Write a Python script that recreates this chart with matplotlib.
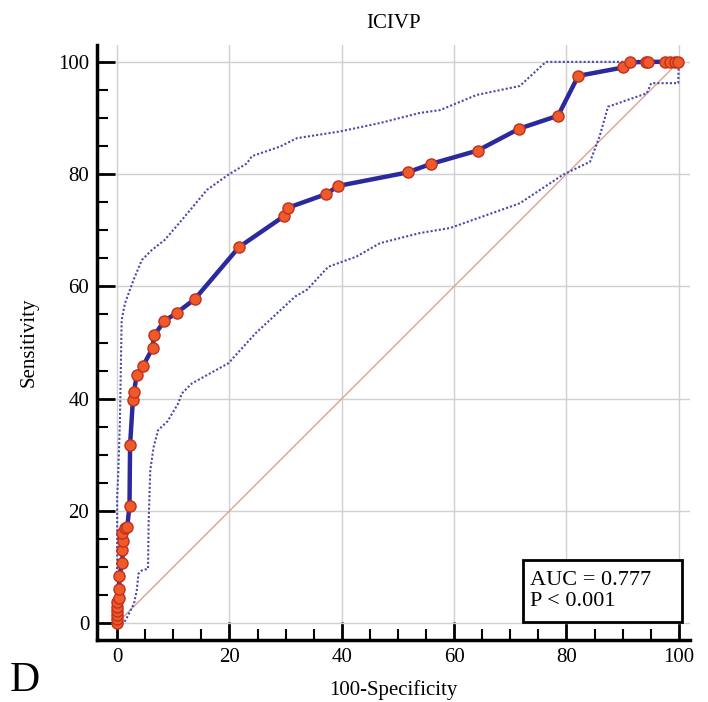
import matplotlib
matplotlib.use("Agg")
import matplotlib.pyplot as plt
from matplotlib.ticker import MultipleLocator
from matplotlib.patches import Rectangle

plt.rcParams['font.family'] = ['Liberation Serif', 'DejaVu Serif']

# ROC curve points (100-Specificity, Sensitivity)
roc_x = [0, 0, 0, 0, 0, 0, 0.36, 0.4, 0.36, 0.95, 0.95, 1.0, 0.95, 1.4, 1.8, 2.2, 2.3,
         2.8, 3.0, 3.5, 4.6, 6.3, 6.6, 8.4, 10.6, 13.8, 21.7, 29.7, 30.4, 37.1, 39.4,
         51.7, 55.8, 64.2, 71.6, 78.5, 82.1, 90.1, 91.4, 94.2, 94.6, 97.5, 98.5, 99.3, 99.9]
roc_y = [0, 0.7, 1.4, 2.2, 2.9, 3.8, 4.4, 6.0, 8.4, 10.8, 13.0, 14.6, 16.1, 16.9, 17.2, 20.9, 31.7,
         39.7, 41.2, 44.3, 45.8, 49.0, 51.3, 53.8, 55.3, 57.7, 67.0, 72.5, 74.0, 76.4, 77.9,
         80.3, 81.8, 84.2, 88.1, 90.4, 97.5, 99.0, 99.9, 100, 100, 100, 100, 100, 100]

# Upper confidence bound
upper_x = [0, 0, 0.2, 0.5, 0.8, 1.4, 2.9, 4.4, 6.2, 8.5, 11.5, 16.0, 19.8, 23.1, 24.0,
           29.0, 32.0, 39.7, 46.8, 53.9, 57.5, 64.0, 71.7, 75.9, 76.5, 100]
upper_y = [0, 22.5, 26.7, 36.2, 54.0, 57.0, 61.1, 64.7, 66.5, 68.3, 71.8, 77.2, 79.9, 81.9, 83.2,
           84.9, 86.4, 87.6, 89.1, 90.9, 91.4, 94.1, 95.7, 99.6, 100, 100]

# Lower confidence bound
lower_x = [0, 1.2, 2.0, 3.0, 3.5, 3.8, 4.4, 5.5, 5.6, 5.9, 6.5, 7.3, 9.0, 10.9, 11.5, 13.3,
           19.8, 24.6, 31.7, 33.8, 37.6, 42.6, 46.8, 53.9, 59.3, 71.7, 79.4, 84.2, 85.9,
           87.4, 94.3, 95.1, 99.9, 100]
lower_y = [0, 0, 1.5, 3.5, 5.9, 8.8, 9.4, 9.7, 17.8, 27.3, 31.4, 34.4, 36.0, 39.2, 40.9, 42.7,
           46.3, 51.6, 58.2, 59.4, 63.5, 65.3, 67.7, 69.5, 70.4, 74.8, 79.9, 82.2, 86.7,
           92.0, 94.4, 96.2, 96.2, 100]

ref_line = [0, 100]

title = "ICIVP"
auc_text = "AUC = 0.777\nP < 0.001"

fig = plt.figure(figsize=(7.08, 7.02), dpi=100)
ax = fig.add_axes([0.1377, 0.0883, 0.8369, 0.8476])

ax.set_xlim(-3.5, 102)
ax.set_ylim(-3.0, 103)

ax.grid(True, color='#d0d0d0', linewidth=1.0)
ax.set_axisbelow(True)

ax.plot(ref_line, ref_line, color='#d9a396', linewidth=1.0, zorder=2)
ax.plot(upper_x, upper_y, color='#4a4aa8', linestyle=(0, (1, 1)), linewidth=1.5, zorder=3)
ax.plot(lower_x, lower_y, color='#4a4aa8', linestyle=(0, (1, 1)), linewidth=1.5, zorder=3)
ax.plot(roc_x, roc_y, color='#2a2a9e', linewidth=3.2, marker='o', markersize=8,
        markerfacecolor='#ee5a2a', markeredgecolor='#c0301c', markeredgewidth=1.0, zorder=4)

for s in ['top', 'right']:
    ax.spines[s].set_visible(False)
for s in ['left', 'bottom']:
    ax.spines[s].set_linewidth(2.5)

ax.set_xticks([0, 20, 40, 60, 80, 100])
ax.set_yticks([0, 20, 40, 60, 80, 100])
ax.set_xticks([v for v in range(5, 101, 5) if v % 20 != 0], minor=True)
ax.set_yticks([v for v in range(5, 101, 5) if v % 20 != 0], minor=True)
ax.tick_params(which='major', direction='in', length=13, width=2, labelsize=15, pad=6)
ax.tick_params(which='minor', direction='in', length=8, width=1.5)

ax.set_xlabel("100-Specificity", fontsize=15, labelpad=9)
ax.set_ylabel("Sensitivity", fontsize=15, labelpad=14)
ax.set_title(title, fontsize=15, pad=12)

box = Rectangle((0.718, 0.0303), 0.2685, 0.1042, transform=ax.transAxes,
                facecolor='white', edgecolor='black', linewidth=2, zorder=5)
ax.add_patch(box)
ax.text(0.730, 0.0824, auc_text, transform=ax.transAxes, ha='left', va='center',
        fontsize=16, linespacing=1.15, zorder=6)

fig.text(0.035, 0.003, "D", fontsize=30, ha='center', va='bottom')

fig.savefig("out.png", dpi=100)
